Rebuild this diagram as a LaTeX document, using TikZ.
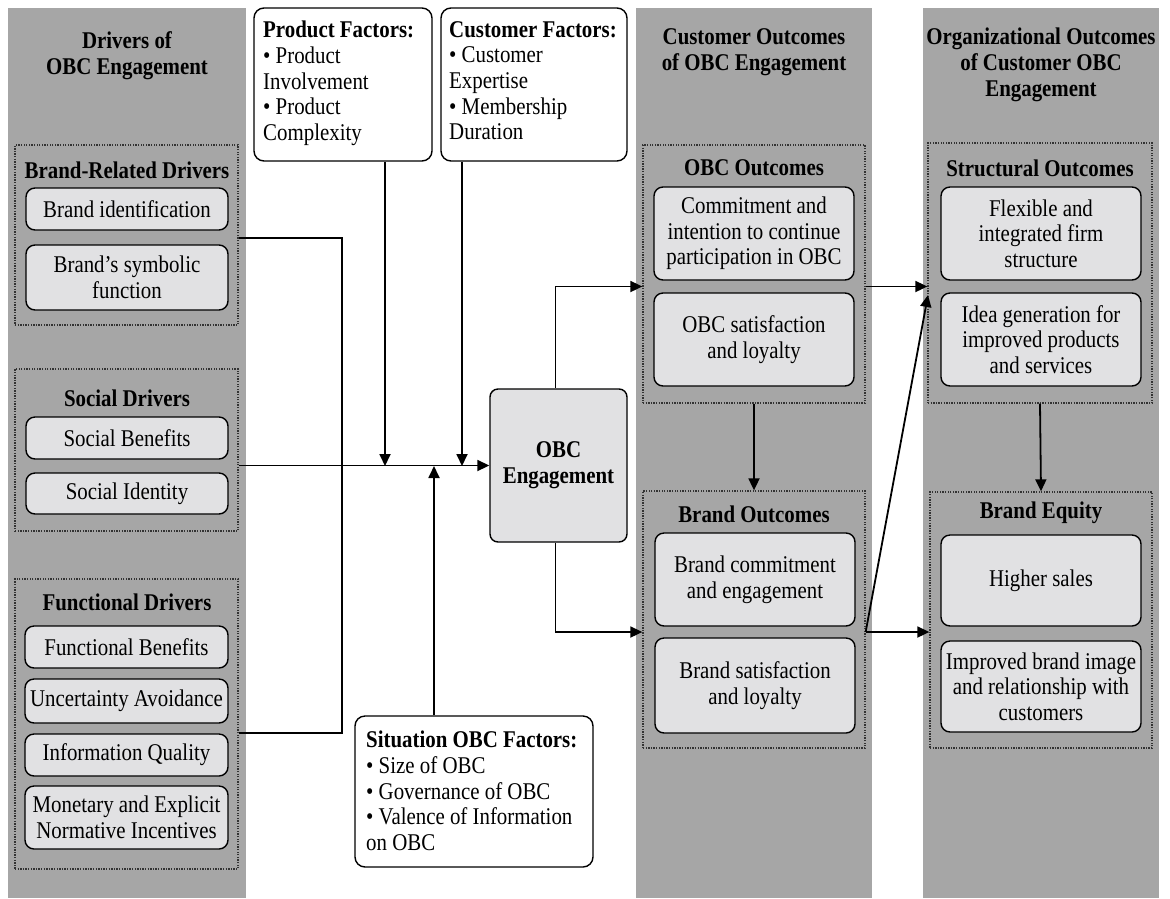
\documentclass[tikz,border=0pt]{standalone}
\usepackage{fontspec}
\setmainfont{Liberation Serif}[FakeStretch=0.87]
\usetikzlibrary{arrows.meta,calc}
\definecolor{colgray}{HTML}{A6A6A6}
\definecolor{itemgray}{HTML}{E1E1E3}
\begin{document}
\begin{tikzpicture}[x=1pt,y=-1pt,
  font=\fontsize{24}{25.7}\selectfont,
  column/.style={fill=colgray,draw=none},
  group/.style={draw=black!80,line width=1.3pt,dash pattern=on 1.3pt off 1.3pt},
  item/.style={draw=black,line width=1.4pt,fill=itemgray,rounded corners=9pt,
    align=center,inner sep=0pt},
  factor/.style={draw=black,line width=1.4pt,fill=white,rounded corners=10pt,
    inner sep=0pt},
  title/.style={font=\fontsize{24}{25.7}\selectfont\bfseries,align=center,inner sep=0pt},
  link/.style={line width=1.8pt},
  arr/.style={link,-{Triangle[length=12pt,width=11pt]}}]

\useasboundingbox (0,0) rectangle (1170,898);

% background columns
\fill[column] (8,8) rectangle (246,898);
\fill[column] (636,8) rectangle (872,898);
\fill[column] (923,8) rectangle (1159,898);

% column headings
\node[title] (hdrA) at (127,56) {Drivers of\\OBC Engagement};
\node[title] (hdrB) at (754,52) {Customer Outcomes\\of OBC Engagement};
\node[title] (hdrC) at (1041,65) {Organizational Outcomes\\of Customer OBC\\Engagement};

% ---------- drivers ----------
\node[group,minimum width=223,minimum height=180] (brg) at (126.5,235) {};
\node[title] (brgT) at (127,170) {Brand-Related Drivers};
\node[item,minimum width=202,minimum height=42] (bid) at (127,209) {Brand identification};
\node[item,minimum width=202,minimum height=65] (bsym) at (127,277.5) {Brand’s symbolic\\function};

\node[group,minimum width=223,minimum height=162] (socg) at (126.5,450) {};
\node[title] (socT) at (127,398) {Social Drivers};
\node[item,minimum width=202,minimum height=42] (sben) at (127,438) {Social Benefits};
\node[item,minimum width=202,minimum height=41] (sid) at (127,493.5) {Social Identity};

\node[group,minimum width=223,minimum height=290] (fng) at (126.5,724) {};
\node[title] (fngT) at (127,602) {Functional Drivers};
\node[item,minimum width=203,minimum height=42] (fben) at (126.5,647) {Functional Benefits};
\node[item,minimum width=203,minimum height=44] (unc) at (126.5,701) {Uncertainty Avoidance};
\node[item,minimum width=203,minimum height=42] (inq) at (126.5,755) {Information Quality};
\node[item,minimum width=203,minimum height=63] (mon) at (126.5,817.5) {Monetary and Explicit\\Normative Incentives};

% ---------- moderating factors ----------
\node[factor,minimum width=178,minimum height=153] (prod) at (343,84.5) {};
\node[anchor=north west,align=left,inner sep=0pt] (prodT) at (263,21)
  {\textbf{Product Factors:}\\• Product\\Involvement\\• Product\\Complexity};

\node[factor,minimum width=186,minimum height=153] (cust) at (534,84.5) {};
\node[anchor=north west,align=left,inner sep=0pt] (custT) at (449,21)
  {\textbf{Customer Factors:}\\• Customer\\Expertise\\• Membership\\Duration};

\node[factor,minimum width=238,minimum height=151] (sit) at (474,791.5) {};
\node[anchor=north west,align=left,inner sep=0pt] (sitT) at (366,731)
  {\textbf{Situation OBC Factors:}\\• Size of OBC\\• Governance of OBC\\• Valence of Information\\on OBC};

% ---------- engagement ----------
\node[item,rounded corners=8pt,minimum width=137,minimum height=153,
  font=\fontsize{24}{25.7}\selectfont\bfseries] (eng) at (558.5,465.5) {OBC\\Engagement};

% ---------- customer outcomes ----------
\node[group,minimum width=222,minimum height=258] (obcg) at (754,274) {};
\node[title] (obcT) at (754,168) {OBC Outcomes};
\node[item,minimum width=200,minimum height=93] (com) at (754,233.5) {Commitment and\\intention to continue\\participation in OBC};
\node[item,minimum width=200,minimum height=93] (osat) at (754,339.5) {OBC satisfaction\\and loyalty};

\node[group,minimum width=222,minimum height=257] (bog) at (754,619.5) {};
\node[title] (boT) at (754,514) {Brand Outcomes};
\node[item,minimum width=200,minimum height=93] (bcom) at (755,579.5) {Brand commitment\\and engagement};
\node[item,minimum width=200,minimum height=95] (bsat) at (755,685.5) {Brand satisfaction\\and loyalty};

% ---------- organizational outcomes ----------
\node[group,minimum width=224,minimum height=260] (strg) at (1040,273) {};
\node[title] (strT) at (1040,168) {Structural Outcomes};
\node[item,minimum width=200,minimum height=93] (flex) at (1041,233.5) {Flexible and\\integrated firm\\structure};
\node[item,minimum width=200,minimum height=93] (idea) at (1041,339.5) {Idea generation for\\improved products\\and services};

\node[group,minimum width=222,minimum height=256] (beg) at (1041,620) {};
\node[title] (begT) at (1041,513) {Brand Equity};
\node[item,minimum width=200,minimum height=91] (hsal) at (1041,580.5) {Higher sales};
\node[item,minimum width=200,minimum height=91] (img) at (1041,686.5) {Improved brand image\\and relationship with\\customers};

% ---------- junction points ----------
\coordinate (jTop) at (342,238);
\coordinate (jBot) at (342,733);
\coordinate (pj) at (385,466);
\coordinate (cj) at (462,466);
\coordinate (sj) at (434,466);
\coordinate (upMid) at ($(com.south)!.5!(osat.north)$);
\coordinate (loMid) at ($(bcom.south)!.5!(bsat.north)$);
\coordinate (diagEnd) at (928,295);

% ---------- connectors ----------
\draw[link] (brg.east |- jTop) -- (jTop) -- (jBot) -- (fng.east |- jBot);
\draw[arr] (socg.east |- eng) -- (eng.west);
\draw[arr] (prod.south -| pj) -- (pj);
\draw[arr] (cust.south -| cj) -- (cj);
\draw[arr] (sit.north -| sj) -- (sj);

\draw[arr] ([xshift=-3pt]eng.north) |- (obcg.west |- upMid);
\draw[arr] ([xshift=-3pt]eng.south) |- (bog.west |- loMid);
\draw[arr] (obcg.south) -- (bog.north);

\draw[arr] (obcg.east |- upMid) -- (strg.west |- upMid);
\draw[arr] (bog.east |- loMid) -- (diagEnd);
\draw[arr] (bog.east |- loMid) -- (beg.west |- loMid);
\draw[arr] (strg.south) -- (beg.north);

\end{tikzpicture}
\end{document}
